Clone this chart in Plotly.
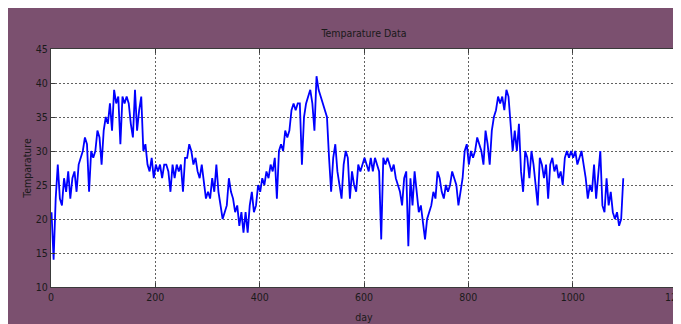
import plotly.graph_objects as go

day = list(range(1, 1098, 4))
temp = [
    # days 1-97
    21, 14, 23, 28, 23, 22, 26, 24, 27, 23, 26, 27, 24, 28, 29, 30, 32, 31, 24, 30, 29, 30, 33, 32, 28,
    # days 101-197
    33, 35, 34, 37, 33, 39, 37, 38, 31, 38, 37, 38, 37, 34, 32, 39, 33, 36, 38, 30, 31, 28, 27, 29, 26,
    # days 201-297
    28, 27, 28, 26, 28, 28, 27, 24, 28, 26, 28, 27, 28, 24, 29, 29, 31, 30, 28, 29, 27, 26, 28, 25, 23,
    # days 301-397
    24, 23, 26, 24, 28, 24, 22, 20, 21, 22, 26, 24, 23, 21, 22, 19, 21, 18, 21, 18, 22, 24, 21, 22, 25,
    # days 401-497
    24, 26, 25, 27, 26, 28, 27, 29, 23, 30, 31, 30, 33, 32, 33, 36, 37, 36, 37, 37, 28, 35, 37, 38, 39,
    # days 501-597
    37, 33, 41, 39, 38, 37, 36, 35, 29, 24, 29, 31, 27, 25, 23, 28, 30, 29, 23, 27, 25, 24, 28, 27, 28,
    # days 601-697
    29, 28, 27, 29, 27, 29, 28, 27, 17, 29, 28, 29, 28, 27, 28, 26, 25, 24, 22, 26, 27, 16, 26, 22, 27,
    # days 701-797
    24, 21, 22, 19, 17, 20, 21, 22, 24, 23, 27, 26, 24, 23, 25, 24, 25, 27, 26, 25, 22, 24, 26, 30, 31,
    # days 801-897
    28, 30, 29, 30, 32, 31, 30, 28, 33, 31, 28, 33, 35, 36, 38, 37, 38, 36, 39, 38, 34, 30, 33, 30, 34,
    # days 901-997
    27, 24, 30, 29, 26, 30, 28, 25, 22, 29, 28, 26, 28, 23, 28, 29, 27, 28, 26, 27, 25, 29, 30, 29, 30,
    # days 1001-1097
    29, 30, 28, 29, 30, 28, 26, 23, 25, 24, 28, 23, 26, 30, 22, 21, 26, 22, 24, 21, 20, 21, 19, 20, 26,
]

x_ticks = [0, 200, 400, 600, 800, 1000, 1200]
y_ticks = [10, 15, 20, 25, 30, 35, 40, 45]

PURPLE = "#7b506f"
FONT = "Liberation Sans Narrow, DejaVu Sans Condensed, Arial Narrow, sans-serif"
TXT = "#1a1a1a"

W, H = 681, 324
L, T = 43, 41
pw, ph = 626, 238
R, B = W - L - pw, H - T - ph

fig = go.Figure()
fig.add_trace(go.Scatter(
    x=day, y=temp, mode="lines",
    line=dict(color="#0000ff", width=1.8),
    showlegend=False, hoverinfo="skip",
))

axis_common = dict(
    showline=True, linecolor="#3a3a3a", linewidth=1, mirror="ticks",
    ticks="inside", ticklen=4, tickcolor="#3a3a3a", tickwidth=1,
    showgrid=True, gridcolor="#606060", gridwidth=1, griddash="2px,2px",
    zeroline=False, ticklabeloverflow="allow",
    tickfont=dict(family=FONT, size=10.5, color=TXT),
)

fig.update_xaxes(
    range=[0, 1200], tickvals=x_ticks, ticktext=[str(v) for v in x_ticks],
    title=dict(text="day", font=dict(family=FONT, size=10.5, color=TXT), standoff=12),
    **axis_common,
)
fig.update_yaxes(
    range=[10, 45], tickvals=y_ticks, ticktext=[str(v) for v in y_ticks],
    title=dict(text="Temparature", font=dict(family=FONT, size=10.5, color=TXT), standoff=2),
    **axis_common,
)

fig.update_layout(
    width=W, height=H,
    margin=dict(l=L, r=R, t=T, b=B, autoexpand=False),
    paper_bgcolor=PURPLE, plot_bgcolor="white",
    title=dict(text="Temparature Data", x=(L + pw / 2) / W, xanchor="center",
               y=1 - 25 / H, yanchor="middle", yref="container",
               font=dict(family=FONT, size=10.5, color=TXT)),
)

fig.write_html("out.html")
